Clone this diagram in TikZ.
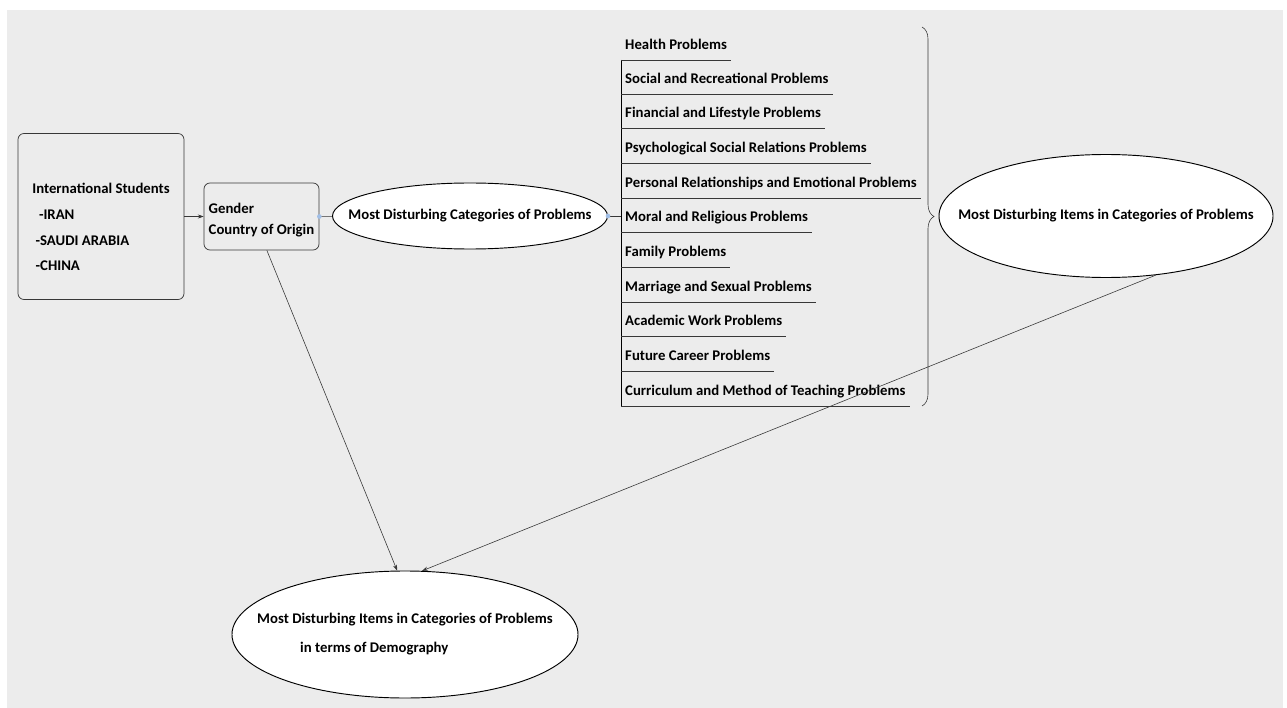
\documentclass[tikz,border=0pt]{standalone}
\usepackage{fontspec}
\setmainfont{Carlito}
\usetikzlibrary{arrows.meta,shapes.geometric,decorations.pathreplacing}
\definecolor{bggray}{RGB}{236,236,236}
\definecolor{linegray}{RGB}{55,55,55}
\definecolor{dotblue}{RGB}{160,190,230}

\begin{document}
\begin{tikzpicture}[x=0.03cm, y=-0.03cm, font=\fontsize{12.6}{15}\selectfont\bfseries,
			box/.style={draw=linegray, rounded corners=0.18cm, line width=0.6pt},
			oval/.style={ellipse, draw, fill=white, inner sep=0pt, line width=0.8pt},
			item/.style={anchor=south west, inner xsep=0.12cm, inner ysep=0pt, text depth=0.3cm},
			link/.style={draw=linegray, line width=0.5pt},
			tip/.style={-{Stealth[length=5pt,width=3.5pt]}}]
			\useasboundingbox (0,0) rectangle (1287,708);
			\fill[bggray] (7,10) rectangle (1283,708);
			\node (s) at (101,216.5) [box, minimum width=4.98cm, minimum height=4.98cm, align=left] {\rule{0pt}{0.95cm}International Students\\[7pt]\hspace*{0.2cm}-IRAN\\[7pt]\hspace*{0.1cm}-SAUDI ARABIA\\[7pt]\hspace*{0.1cm}-CHINA};
			\node (g) at (261.5,216.5) [box, minimum width=3.45cm, minimum height=2.01cm, align=left] {\rule{0pt}{0.5cm}Gender\\[3pt]Country of Origin};
			\node (c) at (470,216) [oval, minimum width=8.25cm, minimum height=1.98cm] {\makebox[0pt]{Most Disturbing Categories of Problems}};
			\node (i) at (1106,216) [oval, minimum width=10.02cm, minimum height=3.69cm] {\makebox[0pt]{Most Disturbing Items in Categories of Problems}};
			\node (d) at (405,634.5) [oval, minimum width=10.38cm, minimum height=3.81cm] {\makebox[0pt]{\begin{tabular}{@{}l@{}}Most Disturbing Items in Categories of Problems\\[9pt]\hspace*{1.29cm}in terms of Demography\end{tabular}}};
			% categories
			\node (hp) at (621,60) [item] {Health Problems};
			\node (sr) at (621,94) [item] {Social and Recreational Problems};
			\node (fl) at (621,128) [item] {Financial and Lifestyle Problems};
			\node (ps) at (621,163) [item] {Psychological Social Relations Problems};
			\node (pr) at (621,198) [item] {Personal Relationships and Emotional Problems};
			\node (mr) at (621,232) [item] {Moral and Religious Problems};
			\node (fp) at (621,267) [item] {Family Problems};
			\node (ms) at (621,302) [item] {Marriage and Sexual Problems};
			\node (aw) at (621,336) [item] {Academic Work Problems};
			\node (fc) at (621,371) [item] {Future Career Problems};
			\node (cm) at (621,406) [item] {Curriculum and Method of Teaching Problems};
			\draw[line width=0.8pt] (hp.south west) -- (cm.south west);
			\draw[link] (hp.south west) -- (hp.south east);
			\draw[link] (sr.south west) -- (sr.south east);
			\draw[link] (fl.south west) -- (fl.south east);
			\draw[link] (ps.south west) -- (ps.south east);
			\draw[link] (pr.south west) -- (pr.south east);
			\draw[link] (mr.south west) -- (mr.south east);
			\draw[link] (fp.south west) -- (fp.south east);
			\draw[link] (ms.south west) -- (ms.south east);
			\draw[link] (aw.south west) -- (aw.south east);
			\draw[link] (fc.south west) -- (fc.south east);
			\draw[link] (cm.south west) -- (cm.south east);
			\draw[link, decorate, decoration={brace, amplitude=0.36cm}] (922,27) -- (922,406);
			% links
			\draw[link, tip] (s) -- (g);
			\draw[link] (g) -- (c);
			\draw[link] (c.east) -- (c.east -| hp.south west);
			\fill[dotblue] (g.east) circle [radius=0.07cm];
			\fill[dotblue] (c.east) circle [radius=0.07cm];
			\draw[link, tip] (g.-81) -- (d.97);
			\draw[link, tip] (i.-50) -- (d.75);
			\end{tikzpicture}
\end{document}
